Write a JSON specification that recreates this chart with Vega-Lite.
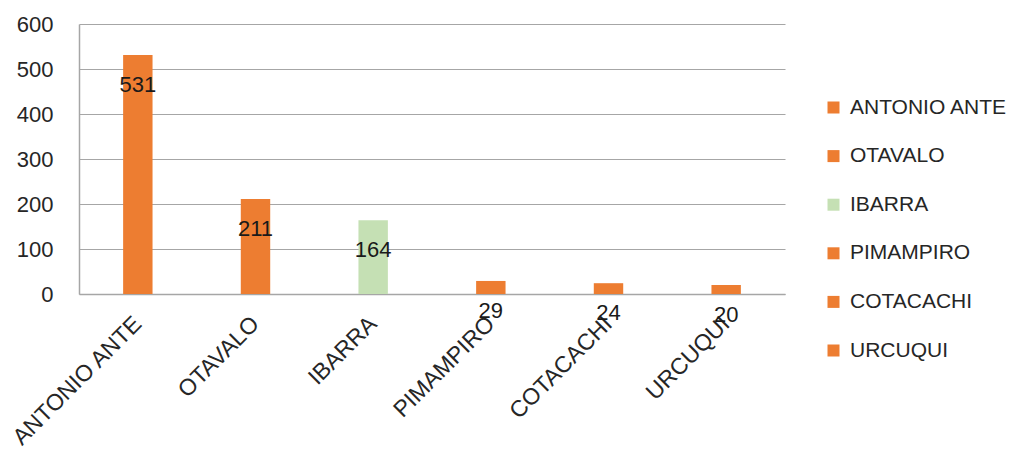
{
  "$schema": "https://vega.github.io/schema/vega-lite/v6.json",
  "width": 706,
  "height": 270,
  "autosize": "none",
  "padding": {"left": 79, "top": 24, "right": 235, "bottom": 161},
  "background": "white",
  "data": {
    "values": [
      {"municipio": "ANTONIO ANTE", "valor": 531},
      {"municipio": "OTAVALO", "valor": 211},
      {"municipio": "IBARRA", "valor": 164},
      {"municipio": "PIMAMPIRO", "valor": 29},
      {"municipio": "COTACACHI", "valor": 24},
      {"municipio": "URCUQUI", "valor": 20}
    ]
  },
  "config": {
    "font": "Liberation Sans",
    "view": {"stroke": null},
    "axis": {"labelFont": "Liberation Sans", "labelColor": "#262626", "labelFontSize": 22}
  },
  "encoding": {
    "x": {
      "field": "municipio",
      "type": "nominal",
      "sort": null,
      "scale": {"paddingInner": 0.75, "paddingOuter": 0.375},
      "axis": {
        "title": null,
        "labelAngle": -45,
        "labelAlign": "right",
        "labelBaseline": "middle",
        "labelPadding": 26,
        "labelFontSize": 23,
        "labelOverlap": false,
        "ticks": false,
        "domainColor": "#a6a6a6",
        "domainWidth": 1.5
      }
    },
    "y": {
      "field": "valor",
      "type": "quantitative",
      "scale": {"domain": [0, 600], "nice": false},
      "axis": {
        "title": null,
        "values": [0, 100, 200, 300, 400, 500, 600],
        "ticks": false,
        "labelPadding": 26,
        "gridColor": "#a6a6a6",
        "gridWidth": 1.2,
        "domainColor": "#a6a6a6",
        "domainWidth": 1.5
      }
    }
  },
  "layer": [
    {
      "mark": {"type": "bar"},
      "encoding": {
        "color": {
          "field": "municipio",
          "type": "nominal",
          "sort": null,
          "scale": {
            "domain": ["ANTONIO ANTE", "OTAVALO", "IBARRA", "PIMAMPIRO", "COTACACHI", "URCUQUI"],
            "range": ["#ED7D31", "#ED7D31", "#C5E0B4", "#ED7D31", "#ED7D31", "#ED7D31"]
          },
          "legend": {
            "title": null,
            "orient": "none",
            "legendX": 744,
            "legendY": 73,
            "symbolType": "square",
            "symbolSize": 144,
            "symbolStrokeWidth": 0,
            "labelFont": "Liberation Sans",
            "labelFontSize": 21,
            "labelColor": "#262626",
            "labelOffset": 6,
            "rowPadding": 26.6,
            "labelLimit": 300
          }
        }
      }
    },
    {
      "mark": {"type": "text", "baseline": "middle", "dy": 30, "fontSize": 22, "color": "#1a1a1a", "font": "Liberation Sans"},
      "encoding": {"text": {"field": "valor", "type": "quantitative"}}
    }
  ]
}
